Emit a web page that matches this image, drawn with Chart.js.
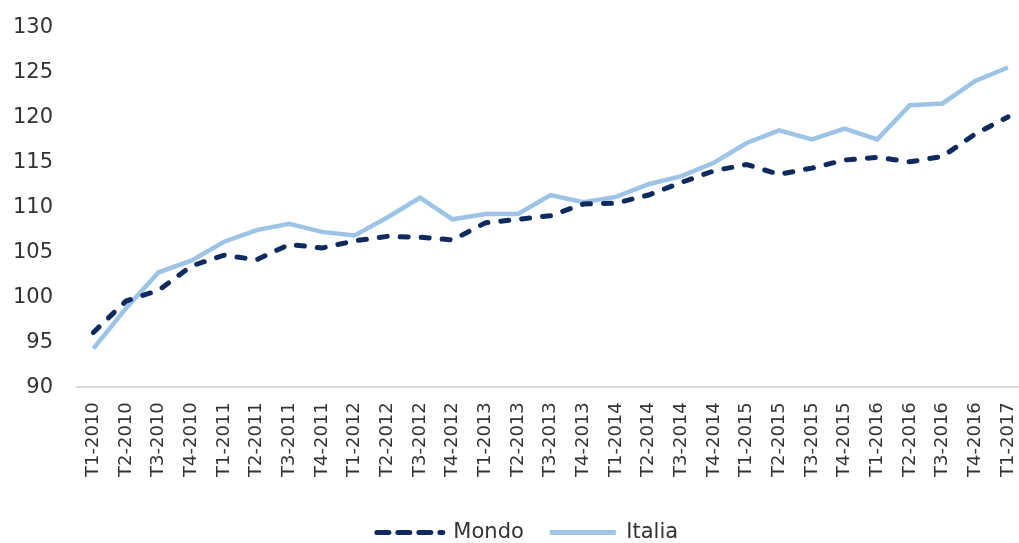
<!DOCTYPE html>
<html>
<head>
<meta charset="utf-8">
<script src="https://cdn.jsdelivr.net/npm/chart.js@4/dist/chart.umd.min.js"></script>
<style>
  html, body { margin: 0; padding: 0; background: #fff; }
  #wrap { width: 1019px; height: 543px; overflow: hidden; }
</style>
</head>
<body>
<div id="wrap"><canvas id="indexChart"></canvas></div>
<script>
const quarters = [
  'T1-2010', 'T2-2010', 'T3-2010', 'T4-2010',
  'T1-2011', 'T2-2011', 'T3-2011', 'T4-2011',
  'T1-2012', 'T2-2012', 'T3-2012', 'T4-2012',
  'T1-2013', 'T2-2013', 'T3-2013', 'T4-2013',
  'T1-2014', 'T2-2014', 'T3-2014', 'T4-2014',
  'T1-2015', 'T2-2015', 'T3-2015', 'T4-2015',
  'T1-2016', 'T2-2016', 'T3-2016', 'T4-2016',
  'T1-2017'
];
const mondo = [
  96.1, 99.6, 100.8, 103.5,
  104.7, 104.2, 105.9, 105.5,
  106.3, 106.8, 106.7, 106.4,
  108.3, 108.7, 109.1, 110.4,
  110.5, 111.4, 112.8, 114.1,
  114.8, 113.7, 114.4, 115.3,
  115.6, 115.1, 115.7, 118.2,
  120.1
];
const italia = [
  94.3, 98.8, 102.8, 104.1,
  106.2, 107.5, 108.2, 107.3,
  106.9, 108.9, 111.1, 108.7,
  109.3, 109.3, 111.4, 110.6,
  111.2, 112.6, 113.5, 115.0,
  117.2, 118.6, 117.6, 118.8,
  117.6, 121.4, 121.6, 124.1,
  125.6
];
const yMin = 90;
const yMax = 130;
const yStep = 5;

const textColor = '#333333';
const fontFamily = "'DejaVu Sans', Verdana, sans-serif";
const mondoColor = '#0e2a5e';
const italiaColor = '#9dc3e6';

// quarters go on a numeric axis (index -> label) so the x range can be set freely
const toPoints = (values) => values.map((v, i) => ({ x: i, y: v }));

const indexChart = document.querySelector('#indexChart');

let lineChart = new Chart(indexChart, {
  type: 'line',
  data: {
    datasets: [{
      label: 'Mondo',
      data: toPoints(mondo),
      borderColor: mondoColor,
      backgroundColor: mondoColor,
      borderWidth: 5,
      borderDash: [8, 13],
      borderCapStyle: 'round',
      pointRadius: 0,
      tension: 0
    },
    {
      label: 'Italia',
      data: toPoints(italia),
      borderColor: italiaColor,
      backgroundColor: italiaColor,
      borderWidth: 4.5,
      pointRadius: 0,
      tension: 0
    }]
  },
  options: {
    responsive: true,
    maintainAspectRatio: false,
    animation: false,
    layout: {
      // negative right padding only moves the legend centre a bit to the right
      padding: { top: 28, right: -36, bottom: -10, left: 0 }
    },
    plugins: {
      legend: {
        position: 'bottom',
        labels: {
          usePointStyle: true,
          pointStyle: 'line',
          pointStyleWidth: 66,
          padding: 26,
          color: textColor,
          font: { family: fontFamily, size: 21 },
          generateLabels: (chart) => {
            const items = Chart.defaults.plugins.legend.labels.generateLabels(chart);
            items.forEach((item) => {
              const ds = chart.data.datasets[item.datasetIndex];
              item.lineDash = ds.borderDash ? [12, 9] : [];
              item.lineCap = ds.borderDash ? 'round' : 'butt';
              item.lineWidth = 5;
            });
            return items;
          }
        }
      },
      tooltip: { enabled: false }
    },
    scales: {
      x: {
        type: 'linear',
        min: -0.5,
        max: 28.34,
        grid: { display: false, drawTicks: false },
        border: { display: true, color: '#d9d9d9', width: 2 },
        afterBuildTicks: (scale) => {
          scale.ticks = quarters.map((q, i) => ({ value: i }));
        },
        afterFit: (scale) => {
          scale.height = scale.height + 4;
          scale.paddingLeft = 0;
          scale.paddingRight = 0;
        },
        ticks: {
          color: textColor,
          padding: 15,
          minRotation: 90,
          maxRotation: 90,
          autoSkip: false,
          font: { family: fontFamily, size: 18 },
          callback: (value) => quarters[value]
        }
      },
      y: {
        min: yMin,
        max: yMax,
        grid: { display: false, drawTicks: false },
        border: { display: false },
        afterFit: (scale) => {
          scale.width = 77;
          scale.paddingTop = 12;
          scale.paddingBottom = 12;
        },
        ticks: {
          stepSize: yStep,
          color: textColor,
          padding: 24,
          font: { family: fontFamily, size: 21 }
        }
      }
    }
  }
});
</script>
</body>
</html>
